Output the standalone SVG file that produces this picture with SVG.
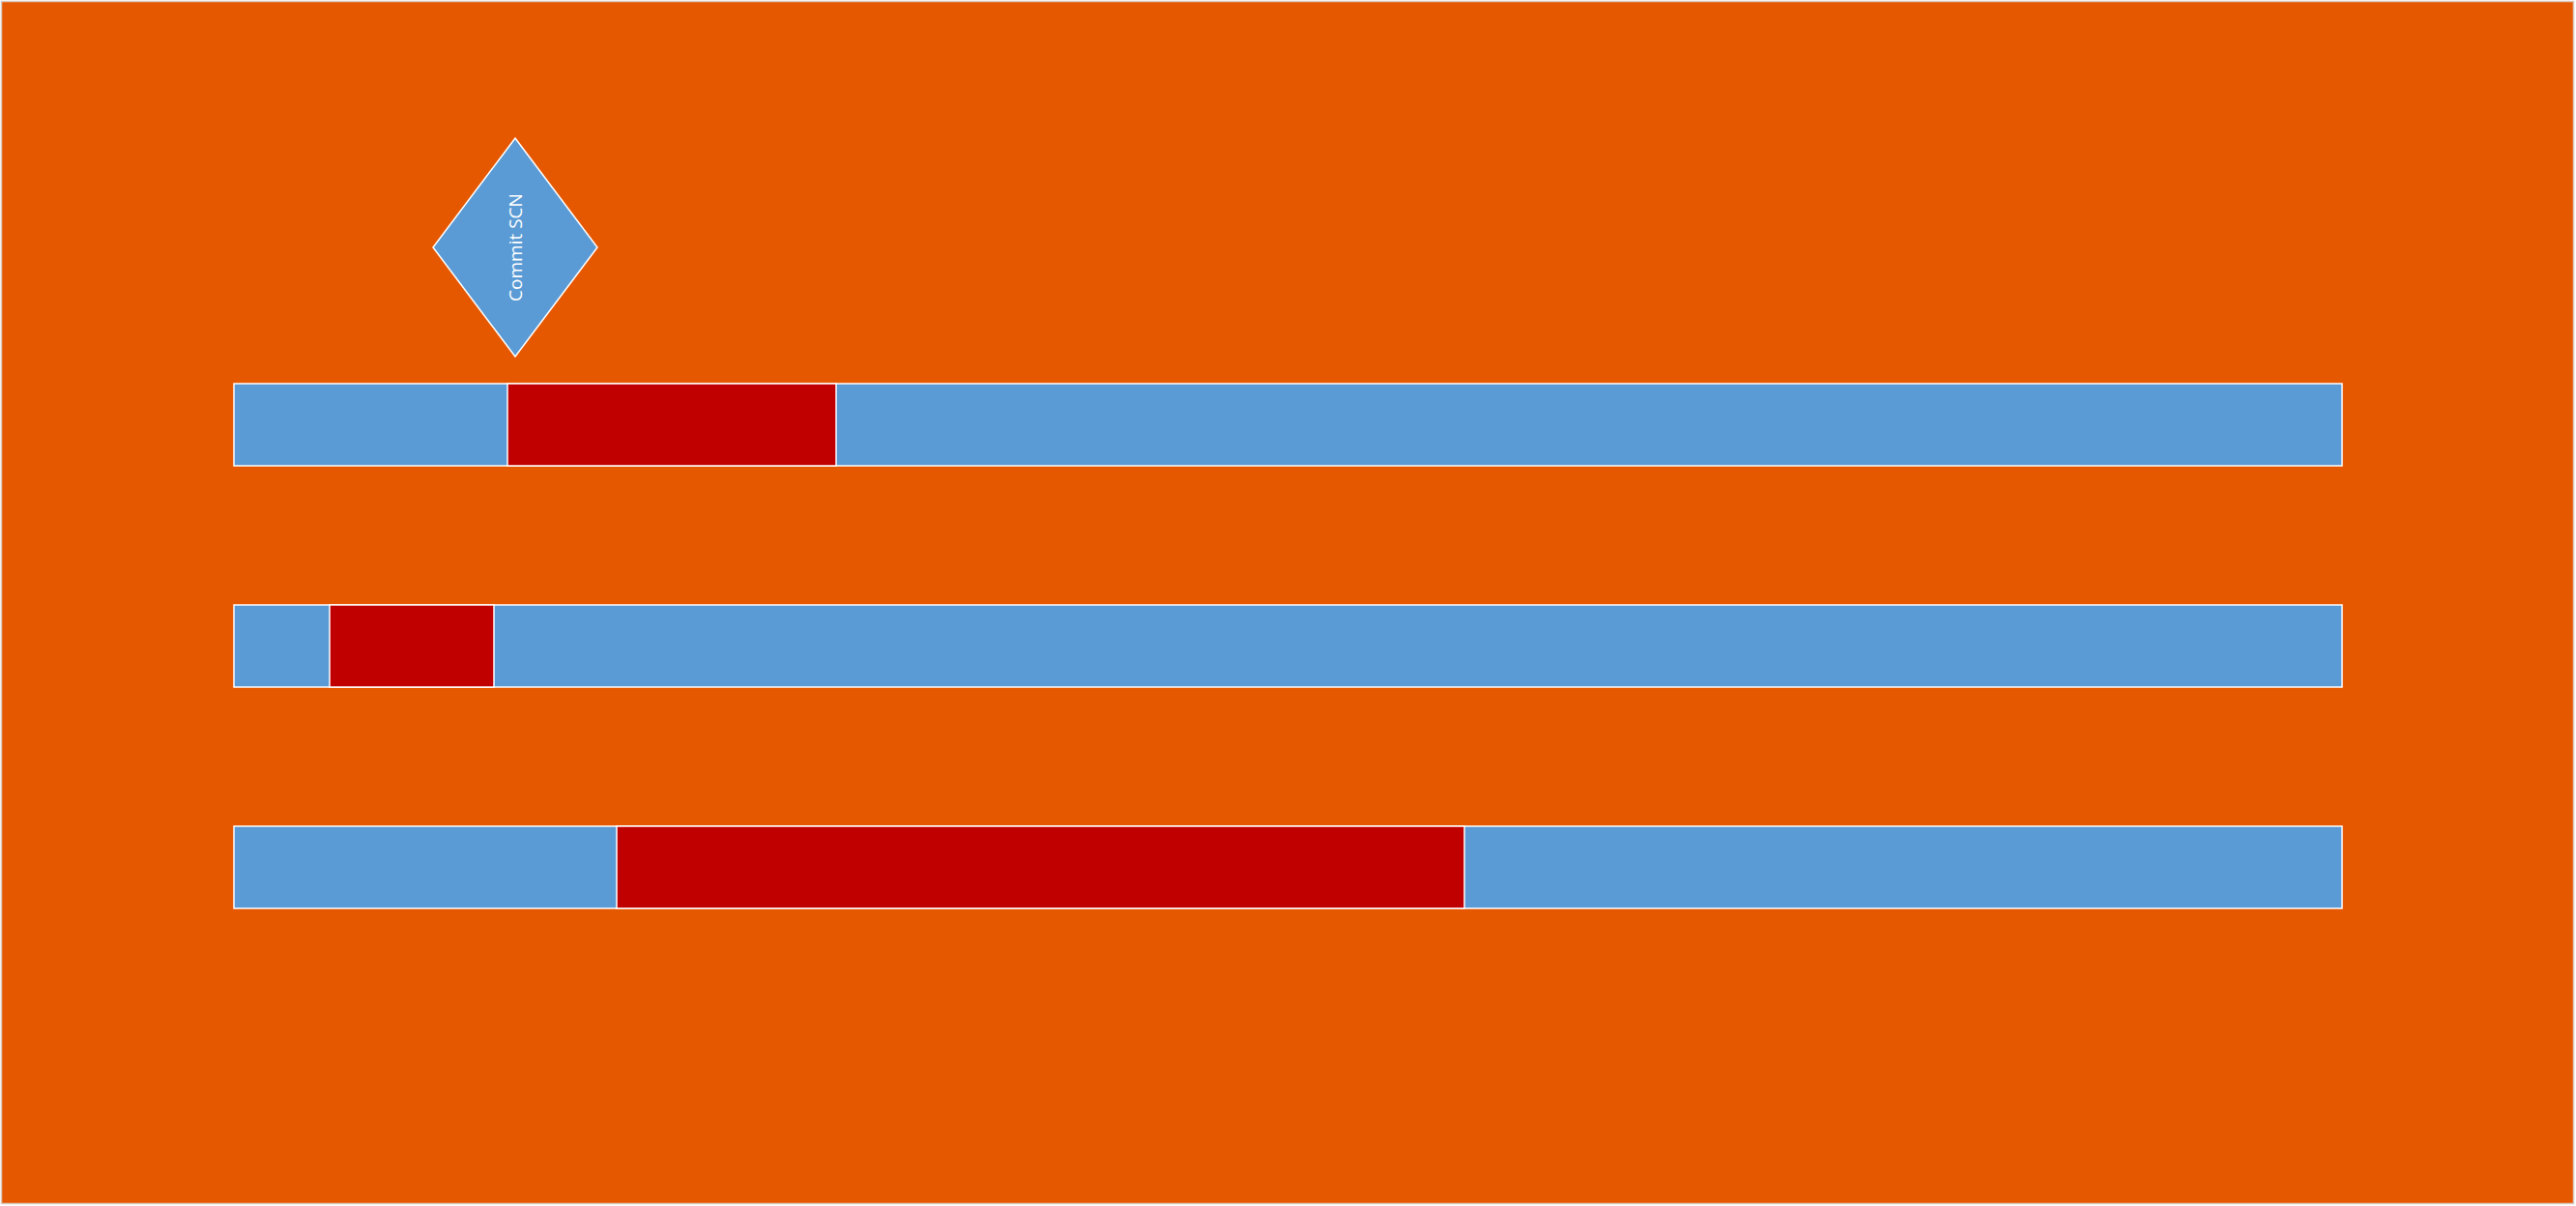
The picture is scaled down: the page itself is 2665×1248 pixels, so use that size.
<svg xmlns="http://www.w3.org/2000/svg" width="2665" height="1248" viewBox="0 0 2665 1248">
<style>
.bg{fill:#E65800;stroke:#D9C8BE;stroke-width:1.5}
.blue{fill:#5B9BD5;stroke:#FFFFFF;stroke-width:1.5}
.red{fill:#C00000;stroke:#FFFFFF;stroke-width:1.5}
.lbl{font-family:"Open Sans","Liberation Sans",sans-serif;font-size:19px;fill:#FFFFFF}
</style>
<rect x="0" y="0" width="2665" height="1248" fill="#FFFFFF"/>
<rect class="bg" x="1.5" y="1.5" width="2661" height="1244"/>
<g id="commit-scn">
<polygon class="blue" points="533,143 618,256 533,369 448,256"/>
<text class="lbl" x="533" y="256" text-anchor="middle" dominant-baseline="central" transform="rotate(-90 533 256)">Commit SCN</text>
</g>
<g id="row1">
<rect class="blue" x="242" y="397" width="2181" height="85"/>
<rect class="red" x="525" y="397" width="340" height="85"/>
</g>
<g id="row2">
<rect class="blue" x="242" y="626" width="2181" height="85"/>
<rect class="red" x="341" y="626" width="170" height="85"/>
</g>
<g id="row3">
<rect class="blue" x="242" y="855" width="2181" height="85"/>
<rect class="red" x="638" y="855" width="877" height="85"/>
</g>
<g id="connectors"></g>
</svg>
